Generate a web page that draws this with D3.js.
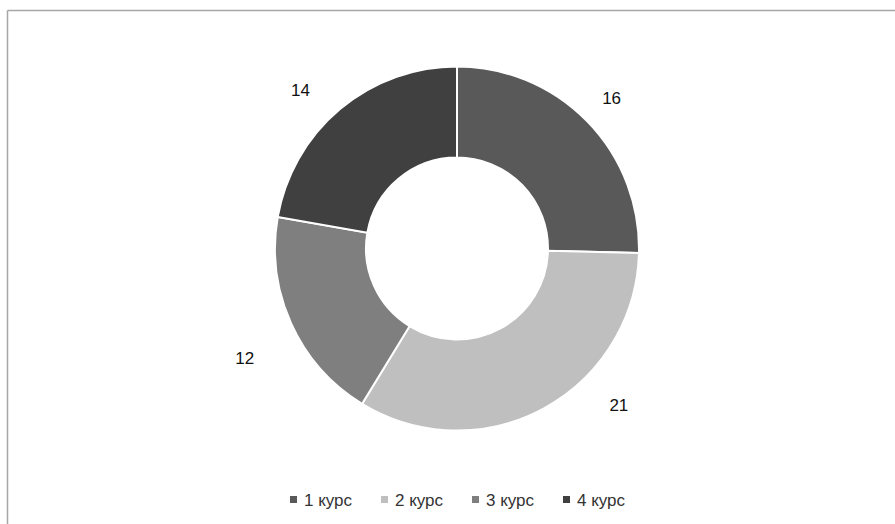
<!DOCTYPE html>
<html>
<head>
<meta charset="utf-8">
<script src="https://cdn.jsdelivr.net/npm/d3@7"></script>
<style>
  body { margin: 0; background: #fff; }
  svg { display: block; }
</style>
</head>
<body>
<svg id="chart"></svg>
<script>
const width = 895;
const height = 524;

// data
const categories = ["1 курс", "2 курс", "3 курс", "4 курс"];
const values = [16, 21, 12, 14];
const colors = ["#595959", "#bfbfbf", "#7f7f7f", "#404040"];

// label placement (angle in degrees clockwise from top, distance from centre)
const labelAngles = [45.7, 134, 242.6, 315.4];
const labelRadii = [216, 225, 239, 223];

const cx = 457, cy = 248.5;
const outerR = 182, innerR = 91;

const svg = d3.select("#chart")
  .attr("width", width)
  .attr("height", height);

// frame (only top and left edges visible in the crop)
svg.append("line")
  .attr("x1", 7.5).attr("y1", 10.5).attr("x2", width).attr("y2", 10.5)
  .attr("stroke", "#a6a6a6").attr("stroke-width", 1.5);
svg.append("line")
  .attr("x1", 7.5).attr("y1", 10.5).attr("x2", 7.5).attr("y2", height)
  .attr("stroke", "#a6a6a6").attr("stroke-width", 1.5);

const pie = d3.pie().sort(null).value(d => d);
const arc = d3.arc().innerRadius(innerR).outerRadius(outerR);

const g = svg.append("g").attr("transform", `translate(${cx},${cy})`);

g.selectAll("path")
  .data(pie(values))
  .join("path")
  .attr("d", arc)
  .attr("fill", (d, i) => colors[i])
  .attr("stroke", "#fff")
  .attr("stroke-width", 2);

g.selectAll("text.lbl")
  .data(values)
  .join("text")
  .attr("class", "lbl")
  .attr("x", (d, i) => labelRadii[i] * Math.sin(labelAngles[i] * Math.PI / 180))
  .attr("y", (d, i) => -labelRadii[i] * Math.cos(labelAngles[i] * Math.PI / 180))
  .attr("dy", "0.35em")
  .attr("text-anchor", "middle")
  .attr("font-family", "Liberation Sans, Arial, sans-serif")
  .attr("font-size", 17)
  .attr("fill", "#111")
  .text(d => d);

// legend
const legendX = d3.scalePoint()
  .domain(categories)
  .range([290, 563]);

const legend = svg.append("g")
  .selectAll("g")
  .data(categories)
  .join("g")
  .attr("transform", d => `translate(${legendX(d)},500)`);

legend.append("rect")
  .attr("x", 0).attr("y", -4)
  .attr("width", 7).attr("height", 7)
  .attr("fill", (d, i) => colors[i]);

legend.append("text")
  .attr("x", 14)
  .attr("dy", "0.35em")
  .attr("font-family", "Liberation Sans, Arial, sans-serif")
  .attr("font-size", 17)
  .attr("fill", "#333")
  .text(d => d);
</script>
</body>
</html>
